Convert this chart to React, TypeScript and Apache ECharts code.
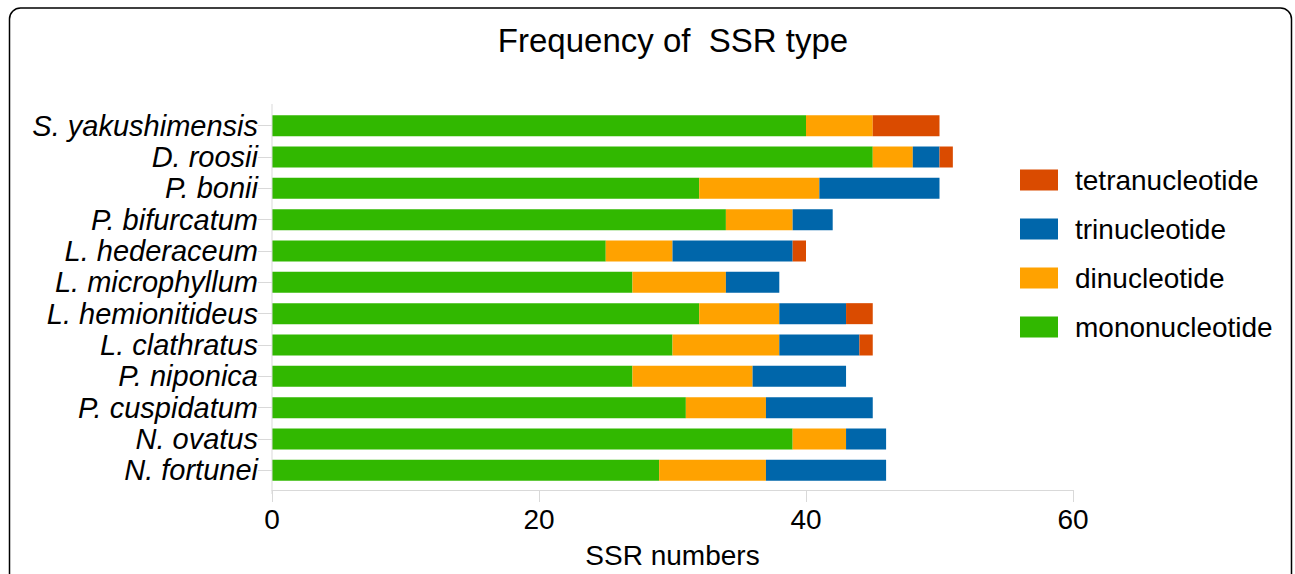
import React, { useEffect, useRef } from "react";
import * as echarts from "echarts";

const categories = [
  "S. yakushimensis",
  "D. roosii",
  "P. bonii",
  "P. bifurcatum",
  "L. hederaceum",
  "L. microphyllum",
  "L. hemionitideus",
  "L. clathratus",
  "P. niponica",
  "P. cuspidatum",
  "N. ovatus",
  "N. fortunei",
];
const mononucleotide = [40, 45, 32, 34, 25, 27, 32, 30, 27, 31, 39, 29];
const dinucleotide = [5, 3, 9, 5, 5, 7, 6, 8, 9, 6, 4, 8];
const trinucleotide = [0, 2, 9, 3, 9, 4, 5, 6, 7, 8, 3, 9];
const tetranucleotide = [5, 1, 0, 0, 1, 0, 2, 1, 0, 0, 0, 0];
const legendOrder = ["tetranucleotide", "trinucleotide", "dinucleotide", "mononucleotide"];

const FONT = '"Liberation Sans", Arial, Helvetica, sans-serif';
const GRAY = "#d9d9d9";

export default function App() {
  const ref = useRef<HTMLDivElement>(null);
  useEffect(() => {
    if (!ref.current) return;
    const chart = echarts.init(ref.current, undefined, { renderer: "svg" });
    const mk = (name: string, data: number[], color: string) => ({
      name,
      type: "bar",
      stack: "total",
      data,
      barWidth: 21,
      itemStyle: { color },
      emphasis: { disabled: true },
    });
    chart.setOption({
      animation: false,
      backgroundColor: "#ffffff",
      textStyle: { fontFamily: FONT },
      title: {
        text: "Frequency of  SSR type",
        left: 668,
        textAlign: "center",
        top: 19,
        textStyle: { fontFamily: FONT, fontSize: 33, fontWeight: "normal", color: "#000" },
      },
      legend: {
        data: legendOrder,
        orient: "vertical",
        left: 1015,
        top: 160,
        itemWidth: 38,
        itemHeight: 21,
        itemGap: 19,
        icon: "rect",
        textStyle: {
          fontFamily: FONT,
          fontSize: 28,
          color: "#000",
          lineHeight: 30,
          padding: [0, 0, 0, 12],
        },
      },
      grid: { left: 272, right: 222, top: 110, height: 380 },
      xAxis: {
        type: "value",
        min: 0,
        max: 60,
        interval: 20,
        offset: 4,
        name: "SSR numbers",
        nameLocation: "middle",
        nameGap: 51,
        nameTextStyle: { fontFamily: FONT, fontSize: 28, color: "#000" },
        axisLine: { show: true, lineStyle: { color: GRAY, width: 1 } },
        axisTick: { show: true, length: 12, lineStyle: { color: GRAY } },
        axisLabel: { fontFamily: FONT, fontSize: 28, color: "#000", margin: 15 },
        splitLine: { show: false },
      },
      yAxis: {
        type: "category",
        data: categories,
        inverse: true,
        axisLine: { show: false },
        axisTick: { show: true, alignWithLabel: true, length: 14, lineStyle: { color: GRAY } },
        axisLabel: {
          interval: 0,
          fontFamily: FONT,
          fontSize: 29,
          fontStyle: "italic",
          color: "#000",
          margin: 14,
        },
        splitLine: { show: false },
      },
      graphic: [
        {
          type: "line",
          shape: { x1: 272, y1: 104, x2: 272, y2: 494 },
          style: { stroke: GRAY, lineWidth: 1 },
          z: 10,
        },
        {
          type: "rect",
          shape: { x: 9.5, y: 8, width: 1282, height: 620, r: 11 },
          style: { fill: "none", stroke: "#000", lineWidth: 1.5 },
        },
      ],
      series: [
        mk("mononucleotide", mononucleotide, "#31b800"),
        mk("dinucleotide", dinucleotide, "#ffa200"),
        mk("trinucleotide", trinucleotide, "#0066aa"),
        mk("tetranucleotide", tetranucleotide, "#da4b00"),
      ],
    });
    return () => chart.dispose();
  }, []);
  return (
    <div
      ref={ref}
      style={{ position: "fixed", left: 0, top: 0, width: 1295, height: 574 }}
    />
  );
}
